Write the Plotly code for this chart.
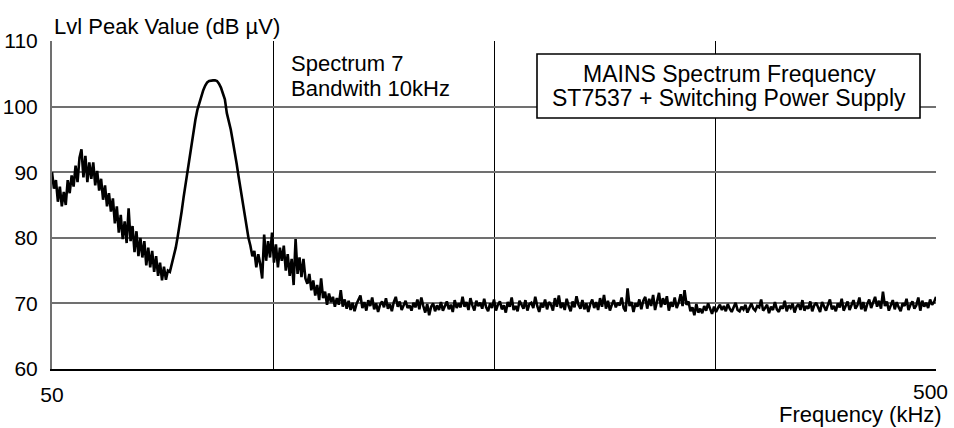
import plotly.graph_objects as go

# Frequency grid of the sweep (kHz), 1 kHz steps from 50 to 500
freq_khz = list(range(50, 501))

# Peak level (dB µV), one value per kHz
level_50_99 = [
    90.0, 87.5, 88.8, 85.5, 87.8, 84.8, 87.0, 85.0, 88.8, 86.8,
    89.5, 87.8, 91.0, 88.5, 92.2, 93.5, 89.2, 92.5, 88.5, 91.5,
    89.0, 91.5, 88.0, 90.2, 87.2, 89.0, 85.8, 88.0, 84.8, 86.8,
    84.0, 86.0, 82.2, 84.8, 80.8, 83.5, 79.8, 82.5, 79.2, 84.5,
    79.5, 81.8, 77.8, 81.0, 77.2, 80.0, 77.0, 79.5, 75.8, 78.5,
]
level_100_149 = [
    75.5, 78.0, 74.8, 77.2, 74.2, 76.2, 73.5, 75.6, 73.6, 75.0,
    74.8, 76.0, 77.5, 78.5, 80.2, 81.8, 84.0, 86.2, 88.2, 90.3,
    92.4, 94.5, 96.6, 98.0, 99.5, 100.5, 101.6, 102.5, 103.2, 103.7,
    103.9, 104.0, 104.0, 104.0, 103.9, 103.5, 102.9, 102.0, 101.1, 99.0,
    97.8, 96.5, 94.8, 93.2, 91.3, 89.3, 87.4, 85.5, 83.5, 81.7,
]
level_150_199 = [
    80.0, 78.8, 77.2, 78.0, 75.5, 77.5, 76.0, 73.8, 80.5, 76.5,
    79.5, 77.0, 80.8, 76.2, 79.0, 75.5, 78.5, 76.5, 78.8, 75.0,
    77.5, 74.2, 76.8, 72.8, 79.8, 74.5, 77.0, 74.0, 76.8, 73.8,
    73.0, 74.5, 72.0, 73.5, 71.2, 72.8, 70.5, 73.8, 70.8, 71.8,
    69.8, 71.5, 70.2, 71.0, 69.5, 70.8, 69.8, 72.0, 69.5, 70.6,
]
level_200_299 = [
    69.2, 70.4, 69.0, 70.1, 68.8, 69.9, 70.6, 71.2, 69.3, 70.2,
    68.9, 70.5, 69.6, 70.9, 69.1, 70.0, 68.7, 69.8, 70.3, 69.4,
    70.8, 69.2, 69.9, 68.8, 70.2, 71.0, 69.5, 70.3, 69.0, 69.8,
    70.4, 69.3, 69.7, 68.9, 70.1, 69.4, 70.6, 69.1, 70.9, 69.6,
    68.6, 69.9, 68.2, 69.5, 70.0, 68.8, 69.7, 69.0, 70.2, 68.9,
    69.6, 70.3, 69.1, 69.8, 68.7, 70.5, 69.3, 70.0, 69.4, 71.0,
    69.5, 70.2, 69.0, 70.8, 69.7, 68.9, 70.4, 69.6, 70.1, 69.2,
    70.7, 69.4, 68.8, 70.0, 69.3, 70.6, 68.9, 69.8, 70.3, 69.1,
    69.7, 68.6, 70.2, 69.5, 70.9, 69.0, 69.6, 68.8, 70.4, 69.7,
    69.2, 70.5, 68.9, 69.9, 70.1, 69.3, 71.0, 69.6, 68.7, 70.0,
]
level_300_399 = [
    69.4, 70.6, 69.1, 70.2, 69.8, 68.9, 70.8, 69.5, 71.2, 69.3,
    70.1, 69.0, 70.7, 69.6, 68.8, 70.3, 69.4, 71.1, 69.8, 69.2,
    70.5, 69.1, 70.0, 68.7, 69.9, 70.6, 69.3, 70.2, 69.0, 70.8,
    69.5, 71.3, 69.2, 70.4, 68.9, 69.8, 70.5, 69.4, 70.1, 69.7,
    70.9, 69.3, 68.8, 72.3, 69.6, 70.2, 68.7, 70.0, 69.5, 70.6,
    69.1, 70.4, 71.0, 69.2, 70.7, 69.6, 71.3, 69.0, 70.3, 71.6,
    69.4, 70.8, 69.8, 71.1, 68.9, 70.2, 69.5, 70.9, 69.3, 70.1,
    71.4, 69.6, 72.0, 69.8, 70.3, 68.8, 69.4, 68.2, 69.9, 68.6,
    69.2, 68.5, 69.6, 68.9, 70.0, 69.1, 68.4, 69.5, 68.7, 69.3,
    69.8, 69.0, 69.6, 68.8, 69.9, 69.2, 68.7, 69.4, 70.1, 69.0,
]
level_400_500 = [
    68.8, 69.5, 69.1, 69.8, 68.6, 69.3, 70.0, 69.2, 68.9, 69.6,
    69.4, 70.6, 68.9, 69.3, 69.8, 68.5, 69.5, 69.0, 70.2, 69.1,
    68.7, 69.6, 69.2, 70.4, 68.8, 69.7, 69.3, 70.0, 68.6, 69.5,
    69.9, 69.0, 70.5, 68.9, 69.6, 69.2, 70.3, 68.8, 69.7, 70.1,
    69.3, 68.7, 70.2, 69.5, 68.9, 69.8, 70.6, 69.1, 69.6, 68.8,
    70.0, 69.4, 70.7, 68.9, 69.6, 70.3, 69.0, 69.8, 70.5, 69.2,
    69.7, 70.9, 69.1, 70.2, 68.8, 69.9, 70.6, 69.3, 70.1, 71.0,
    69.5, 70.4, 69.2, 71.8, 69.6, 70.3, 68.9, 69.8, 70.5, 69.1,
    70.2, 69.4, 68.8, 70.0, 69.6, 70.7, 69.0, 69.8, 70.3, 69.2,
    69.7, 70.9, 68.9, 70.4, 69.5, 70.1, 69.3, 70.6, 69.8, 70.2,
    71.0,
]
level_dbuv = (level_50_99 + level_100_149 + level_150_199
              + level_200_299 + level_300_399 + level_400_500)

x_grid = [50, 162.5, 275, 387.5, 500]
x_ticktext = ["50", "", "", "", ""]
y_ticks = [60, 70, 80, 90, 100, 110]

FONT = "Liberation Sans, Arial, sans-serif"
W, H = 954, 428
L, R, T, B = 52, 936, 41, 369          # plot area in pixels
PW, PH = R - L, B - T


def px(x):
    return (x - L) / PW


def py(y):
    return 1 - (y - T) / PH


fig = go.Figure()
fig.add_trace(go.Scatter(
    x=freq_khz, y=level_dbuv, mode="lines",
    line=dict(color="black", width=2.6),
    hoverinfo="skip", showlegend=False,
))

fig.update_layout(
    width=W, height=H,
    margin=dict(l=L, r=W - R, t=T, b=H - B, pad=0),
    paper_bgcolor="white", plot_bgcolor="white",
    font=dict(family=FONT, size=21, color="black"),
    showlegend=False,
    xaxis=dict(
        range=[50, 500], tickvals=x_grid, ticktext=x_ticktext,
        showgrid=True, gridcolor="black", gridwidth=1.3,
        showline=True, linecolor="black", linewidth=2,
        zeroline=False, ticks="", ticklabelstandoff=6,
        tickfont=dict(size=21), automargin=False,
    ),
    yaxis=dict(
        range=[60, 110], tickvals=y_ticks,
        showgrid=True, gridcolor="#707070", gridwidth=1.5,
        showline=True, linecolor="#707070", linewidth=2,
        zeroline=False, ticks="", ticklabelstandoff=8,
        tickfont=dict(size=21), automargin=False,
    ),
)

# Framed caption box
fig.add_shape(type="rect", xref="paper", yref="paper",
              x0=px(537), x1=px(920), y0=py(118), y1=py(54),
              line=dict(color="black", width=1.6), fillcolor="white",
              layer="above")


def label(text, x, y, xanchor, size):
    return dict(text=text, xref="paper", yref="paper", x=px(x), y=py(y),
                xanchor=xanchor, yanchor="middle", showarrow=False,
                font=dict(size=size), align="left")


annotations = [
    label("MAINS Spectrum Frequency", 729, 74, "center", 23),
    label("ST7537 + Switching Power Supply", 729, 98, "center", 23),
    label("Spectrum 7", 289, 64, "left", 22),
    label("Bandwith 10kHz", 289, 88, "left", 22),
    label("Lvl Peak Value (dB µV)", 52, 26, "left", 22),
    label("500", 950, 391, "right", 21),
    label("Frequency (kHz)", 944, 415, "right", 22),
]
fig.update_layout(annotations=annotations)

fig.write_html(
    "out.html",
    config={"displayModeBar": False},
    post_script="document.body.style.margin='0';"
                "document.body.style.overflow='hidden';",
)
